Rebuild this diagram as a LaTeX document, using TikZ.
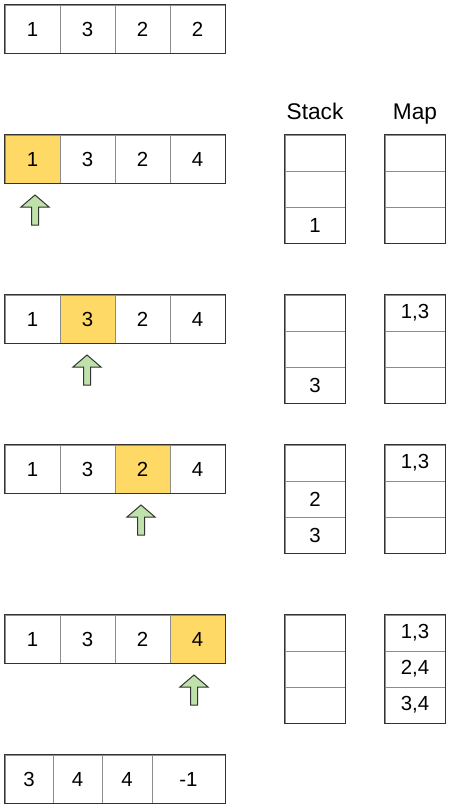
\documentclass[tikz,border=0pt]{standalone}
\usepackage{fontspec}
\setmainfont{Liberation Sans}
\definecolor{hlyellow}{HTML}{FFD966}
\definecolor{arrowgreen}{HTML}{BFE2AA}
\definecolor{divgray}{HTML}{8C8C8C}
\definecolor{outer}{HTML}{333333}
\begin{document}
\begin{tikzpicture}[x=0.75pt,y=-0.75pt]
\tikzset{
  cell/.style={draw=divgray, line width=0.75pt, minimum width=41.25pt, minimum height=36pt, inner sep=0pt, font=\fontsize{15.3}{18}\selectfont},
  hl/.style={fill=hlyellow},
  scell/.style={cell, minimum width=45pt, minimum height=27pt},
  outline/.style={draw=outer, line width=0.75pt},
  uparrow/.style={fill=arrowgreen, draw=outer, line width=0.75pt, line join=miter},
  lbl/.style={font=\fontsize{17}{20}\selectfont, inner sep=0pt, anchor=base}
}
\useasboundingbox[fill=white] (0,0) rectangle (451,811);

% row 0
\node[cell] (r0c1) at (32.5,29) {1};
\node[cell] (r0c2) at (87.5,29) {3};
\node[cell] (r0c3) at (142.5,29) {2};
\node[cell] (r0c4) at (197.5,29) {2};
\draw[outline] (r0c1.north west) rectangle (r0c4.south east);

% labels
\node[lbl] (stacklbl) at (315,119) {Stack};
\node[lbl] (maplbl) at (415,119) {Map};

% row 1
\node[cell,hl] (r1c1) at (32.5,159) {1};
\node[cell] (r1c2) at (87.5,159) {3};
\node[cell] (r1c3) at (142.5,159) {2};
\node[cell] (r1c4) at (197.5,159) {4};
\draw[outline] (r1c1.north west) rectangle (r1c4.south east);
\draw[uparrow, shift={(35,195)}] (0,0) -- (14,12) -- (3.5,12) -- (3.5,30) -- (-3.5,30) -- (-3.5,12) -- (-14,12) -- cycle;
\node[scell] (s1a) at (315,153) {};
\node[scell] (s1b) at (315,189) {};
\node[scell] (s1c) at (315,225) {1};
\draw[outline] (s1a.north west) rectangle (s1c.south east);
\node[scell] (m1a) at (415,153) {};
\node[scell] (m1b) at (415,189) {};
\node[scell] (m1c) at (415,225) {};
\draw[outline] (m1a.north west) rectangle (m1c.south east);

% row 2
\node[cell] (r2c1) at (32.5,319) {1};
\node[cell,hl] (r2c2) at (87.5,319) {3};
\node[cell] (r2c3) at (142.5,319) {2};
\node[cell] (r2c4) at (197.5,319) {4};
\draw[outline] (r2c1.north west) rectangle (r2c4.south east);
\draw[uparrow, shift={(87,355)}] (0,0) -- (14,12) -- (3.5,12) -- (3.5,30) -- (-3.5,30) -- (-3.5,12) -- (-14,12) -- cycle;
\node[scell] (s2a) at (315,313) {};
\node[scell] (s2b) at (315,349) {};
\node[scell] (s2c) at (315,385) {3};
\draw[outline] (s2a.north west) rectangle (s2c.south east);
\node[scell] (m2a) at (415,313) {1,3};
\node[scell] (m2b) at (415,349) {};
\node[scell] (m2c) at (415,385) {};
\draw[outline] (m2a.north west) rectangle (m2c.south east);

% row 3
\node[cell] (r3c1) at (32.5,469) {1};
\node[cell] (r3c2) at (87.5,469) {3};
\node[cell,hl] (r3c3) at (142.5,469) {2};
\node[cell] (r3c4) at (197.5,469) {4};
\draw[outline] (r3c1.north west) rectangle (r3c4.south east);
\draw[uparrow, shift={(141,505)}] (0,0) -- (14,12) -- (3.5,12) -- (3.5,30) -- (-3.5,30) -- (-3.5,12) -- (-14,12) -- cycle;
\node[scell] (s3a) at (315,463) {};
\node[scell] (s3b) at (315,499) {2};
\node[scell] (s3c) at (315,535) {3};
\draw[outline] (s3a.north west) rectangle (s3c.south east);
\node[scell] (m3a) at (415,463) {1,3};
\node[scell] (m3b) at (415,499) {};
\node[scell] (m3c) at (415,535) {};
\draw[outline] (m3a.north west) rectangle (m3c.south east);

% row 4
\node[cell] (r4c1) at (32.5,639) {1};
\node[cell] (r4c2) at (87.5,639) {3};
\node[cell] (r4c3) at (142.5,639) {2};
\node[cell,hl] (r4c4) at (197.5,639) {4};
\draw[outline] (r4c1.north west) rectangle (r4c4.south east);
\draw[uparrow, shift={(194,675)}] (0,0) -- (14,12) -- (3.5,12) -- (3.5,30) -- (-3.5,30) -- (-3.5,12) -- (-14,12) -- cycle;
\node[scell] (s4a) at (315,633) {};
\node[scell] (s4b) at (315,669) {};
\node[scell] (s4c) at (315,705) {};
\draw[outline] (s4a.north west) rectangle (s4c.south east);
\node[scell] (m4a) at (415,633) {1,3};
\node[scell] (m4b) at (415,669) {2,4};
\node[scell] (m4c) at (415,705) {3,4};
\draw[outline] (m4a.north west) rectangle (m4c.south east);

% result row
\node[cell, minimum width=36pt] (r5c1) at (29,779) {3};
\node[cell, minimum width=36.75pt] (r5c2) at (77.5,779) {4};
\node[cell, minimum width=37.5pt] (r5c3) at (127,779) {4};
\node[cell, minimum width=54.75pt] (r5c4) at (188.5,779) {-1};
\draw[outline] (r5c1.north west) rectangle (r5c4.south east);
\end{tikzpicture}
\end{document}
